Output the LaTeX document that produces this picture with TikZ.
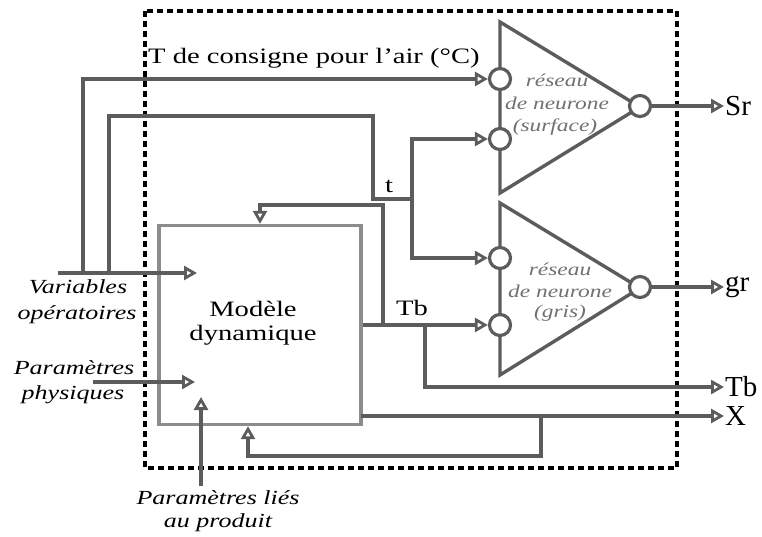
\documentclass[tikz,border=0pt]{standalone}
\usepackage{fontspec}
\setmainfont{Liberation Serif}
\newfontfamily\wideserif[FakeStretch=1.3]{Liberation Serif}
\usetikzlibrary{arrows.meta}
\definecolor{lc}{HTML}{5C5C5C}
\definecolor{bc}{HTML}{8C8C8C}
\definecolor{tc}{HTML}{707070}
\begin{document}
\begin{tikzpicture}[x=1pt,y=-1pt,
  wire/.style={draw=lc,line width=3.4pt},
  tip/.style={-{Triangle[length=13pt,width=14pt,fill=white,line width=2.8pt]}},
  neur/.style={circle,draw=lc,line width=3.2pt,fill=white,minimum size=21pt,inner sep=0pt},
  lbl/.style={inner sep=0pt,font=\wideserif\fontsize{22}{26}\selectfont},
  ilbl/.style={inner sep=0pt,font=\wideserif\itshape\fontsize{20}{24}\selectfont},
  nlbl/.style={inner sep=0pt,text=tc,font=\wideserif\itshape\fontsize{18}{21}\selectfont},
  olbl/.style={anchor=west,inner sep=1pt,font=\fontsize{29}{32}\selectfont}]
\useasboundingbox (0,0) rectangle (762,537);
% frame
\draw[black,line width=3.2pt,dash pattern=on 6pt off 4pt] (145,11) rectangle (677,468);
% model
\node[draw=bc,line width=3.4pt,minimum width=202pt,minimum height=199pt,inner sep=0pt] (model) at (260,325) {};
\node[lbl,align=center] (mtxt) at (253,323) {Modèle\\[-2pt]dynamique};
% triangles
\draw[wire,line join=miter] (500,22) -- (640,107) -- (500,193) -- cycle;
\draw[wire,line join=miter] (500,203) -- (640,288) -- (500,375) -- cycle;
\node[nlbl] (n1a) at (557,80) {réseau};
\node[nlbl] (n1b) at (557,103) {de neurone};
\node[nlbl] (n1c) at (555,127) {(surface)};
\node[nlbl] (n2a) at (560,269) {réseau};
\node[nlbl] (n2b) at (560,291) {de neurone};
\node[nlbl] (n2c) at (560,313) {(gris)};
\node[neur] (c1) at (500,79) {};
\node[neur] (c2) at (500,139) {};
\node[neur] (c3) at (500,258) {};
\node[neur] (c4) at (500,325) {};
\node[neur] (c5) at (640,106) {};
\node[neur] (c6) at (640,287) {};
% outputs
\node[olbl] (sr) at (724,106) {Sr};
\node[olbl] (gr) at (724,287) {gr};
\node[olbl] (tbo) at (724,387) {Tb};
\node[olbl] (xo) at (724,416) {X};
\draw[wire,tip] (c5.east) -- (sr.west);
\draw[wire,tip] (c6.east) -- (gr.west);
% inputs
\node[ilbl] (var1) at (78,287) {Variables};
\node[ilbl] (var2) at (77,315) {opératoires};
\node[ilbl] (pp1) at (74,368) {Paramètres};
\node[ilbl] (pp2) at (73,395) {physiques};
\node[ilbl] (pl1) at (218,498) {Paramètres liés};
\node[ilbl] (pl2) at (218,523) {au produit};
\node[lbl,anchor=west] (tcons) at (148,58) {T de consigne pour l’air (°C)};
\node[lbl] (tlab) at (389,186) {t};
\node[lbl] (tblab) at (412,308) {Tb};
% coordinates
\coordinate (vs) at (58,273);
\coordinate (vin) at (197,273);
\coordinate (j1) at (83,273);
\coordinate (j2) at (109,273);
\coordinate (ta) at (373,116);
\coordinate (tb) at (412,199);
\coordinate (ps) at (93,382);
\coordinate (pin) at (195,382);
\coordinate (ls) at (201,486);
\coordinate (lin) at (201,397);
\coordinate (fb) at (383,325);
\coordinate (fbc) at (260,205);
\coordinate (tbj) at (425,325);
\coordinate (xs) at (361,416);
\coordinate (xj) at (541,416);
\coordinate (xb) at (248,456);
% connectors
\draw[wire,tip] (vs) -- (vin);
\draw[wire,tip] (ps) -- (pin);
\draw[wire,tip] (ls) -- (lin);
\draw[wire,tip] (j1) |- (c1.west);
\draw[wire] (j2) |- (ta) |- (tb);
\draw[wire,tip] (tb) |- (c2.west);
\draw[wire,tip] (tb) |- (c3.west);
\draw[wire,tip] (model.east) -- (c4.west);
\draw[wire,tip] (fb) |- (fbc) -- (model.north);
\draw[wire,tip] (tbj) |- (tbo.west);
\draw[wire,tip] (xs) -- (xo.west);
\draw[wire,tip] (xj) |- (xb) -- (xb |- model.south);
\end{tikzpicture}
\end{document}
